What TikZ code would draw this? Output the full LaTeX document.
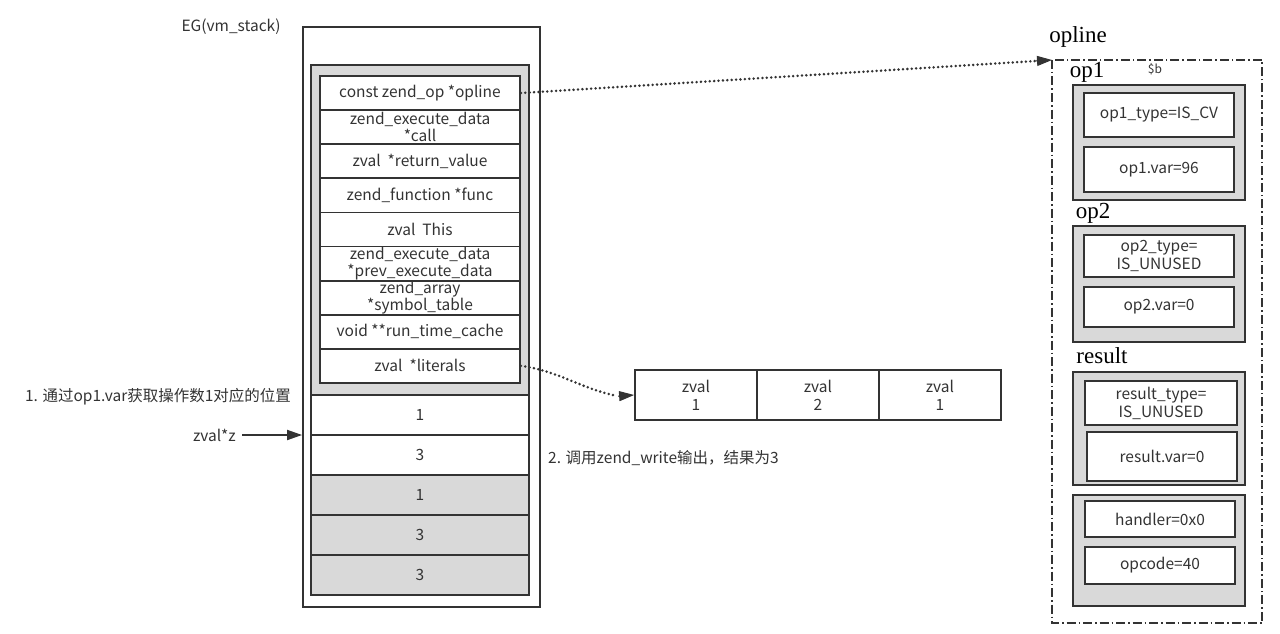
\documentclass[tikz,border=0pt]{standalone}
\usepackage{fontspec}
\setmainfont{Noto Sans CJK SC}
\newfontfamily\seriffont{Liberation Serif}
\usetikzlibrary{arrows.meta,calc}
\definecolor{linec}{HTML}{333333}
\definecolor{grayc}{HTML}{D9D9D9}
\definecolor{textc}{HTML}{333333}
\begin{document}
\begin{tikzpicture}[x=1pt,y=-1pt,
  txt/.style={font=\fontsize{15.5}{17}\selectfont, text=textc, align=center, inner sep=0pt},
  wbox/.style={draw=linec, line width=1.8pt, fill=white, inner sep=0pt, font=\fontsize{15.5}{18}\selectfont, text=textc, align=center},
  gbox/.style={draw=linec, line width=1.8pt, fill=grayc, inner sep=0pt, font=\fontsize{15.5}{18}\selectfont, text=textc, align=center},
  sz/.style n args={2}{minimum width=#1, minimum height=#2},
  serif/.style={font=\seriffont\fontsize{23}{25}\selectfont, text=black, inner sep=0pt},
  dotline/.style={draw=linec, line width=2.8pt, line cap=round, dash pattern=on 0pt off 4.4pt},
  arr/.style={-{Triangle[length=15pt,width=10pt]}},
  dashdot/.style={draw=linec, line width=1.6pt, dash pattern=on 9pt off 3pt on 1.5pt off 3pt}]
\useasboundingbox (0,0) rectangle (1280,634);
\fill[white] (0,0) rectangle (1280,634);

% ---------- stack ----------
\node[txt] (eg) at (231,27) {EG(vm\_stack)};
\node[wbox, sz={237}{580}] (outer) at (421.5,317) {};
\node[gbox, sz={218}{330}] (gray) at (420,230) {};
\foreach \i/\t in {1/{const zend\_op *opline},
                   2/{zend\_execute\_data\\*call},
                   3/{zval\ \ *return\_value},
                   4/{zend\_function *func},
                   5/{zval\ \ This},
                   6/{zend\_execute\_data\\*prev\_execute\_data},
                   7/{zend\_array\\*symbol\_table},
                   8/{void **run\_time\_cache},
                   9/{zval\ \ *literals}}{
  \node[wbox, sz={200}{34.1}, font=\fontsize{15.5}{17}\selectfont] (r\i) at (420,{76+34.1*(\i-0.5)}) {\t};
}
\node[wbox, sz={218}{40}] (s1) at (420,415) {1};
\node[wbox, sz={218}{40}] (s2) at (420,455) {3};
\node[gbox, sz={218}{40}] (s3) at (420,495) {1};
\node[gbox, sz={218}{40}] (s4) at (420,535) {3};
\node[gbox, sz={218}{40}] (s5) at (420,575) {3};

\node[txt] (note1) at (158,397) {1. 通过op1.var获取操作数1对应的位置};
\node[txt, anchor=east] (zz) at (236,435) {zval*z};
\draw[draw=linec, line width=1.8pt, arr, fill=linec] ([xshift=6pt]zz.east) -- (zz.east -| outer.west);
\node[txt, anchor=west] (note2) at (548,458) {2. 调用zend\_write输出，结果为3};

% ---------- literals ----------
\node[wbox, sz={122}{50}] (c1) at (696,395) {zval\\1};
\node[wbox, sz={122}{50}] (c2) at (818,395) {zval\\2};
\node[wbox, sz={122}{50}] (c3) at (940,395) {zval\\1};
\draw[dotline] (r9.east) to[out=-8,in=168] ([xshift=-17pt,yshift=-1pt]c1.west);
\draw[draw=linec, line width=1pt, arr, fill=linec] ([xshift=-16pt,yshift=-1.2pt]c1.west) -- (c1.west);

% ---------- opline ----------
\node[serif] (oplinelbl) at (1078,37) {opline};
\draw[dashdot] (1052,60) rectangle (1262,623);
\coordinate (opc) at (1052,60);
\draw[dotline] (r1.east) -- ($(r1.east)!0.968!(opc)$);
\draw[draw=linec, line width=1pt, arr, fill=linec] ($(r1.east)!0.97!(opc)$) -- (opc);

\node[serif] (op1lbl) at (1087,72) {op1};
\node[txt, font=\fontsize{12}{13}\selectfont] (sb) at (1155,69) {\$b};
\node[gbox, sz={172}{115}] (g1) at (1159,142.5) {};
\node[wbox, sz={150}{44}] (o11) at (1159,115) {op1\_type=IS\_CV};
\node[wbox, sz={150}{45}] (o12) at (1159,169.5) {op1.var=96};

\node[serif] (op2lbl) at (1093,213) {op2};
\node[gbox, sz={172}{116}] (g2) at (1159,284) {};
\node[wbox, sz={150}{42}] (o21) at (1159,256) {op2\_type=\\IS\_UNUSED};
\node[wbox, sz={150}{40}] (o22) at (1159,307) {op2.var=0};

\node[serif] (reslbl) at (1102,356) {result};
\node[gbox, sz={172}{113}] (g3) at (1159,428.5) {};
\node[wbox, sz={152}{44}] (o31) at (1161,403) {result\_type=\\IS\_UNUSED};
\node[wbox, sz={150}{49}] (o32) at (1162,456.5) {result.var=0};

\node[gbox, sz={172}{111}] (g4) at (1159,550.5) {};
\node[wbox, sz={150}{36}] (o41) at (1160,519) {handler=0x0};
\node[wbox, sz={150}{37}] (o42) at (1160,565.5) {opcode=40};
\end{tikzpicture}
\end{document}
